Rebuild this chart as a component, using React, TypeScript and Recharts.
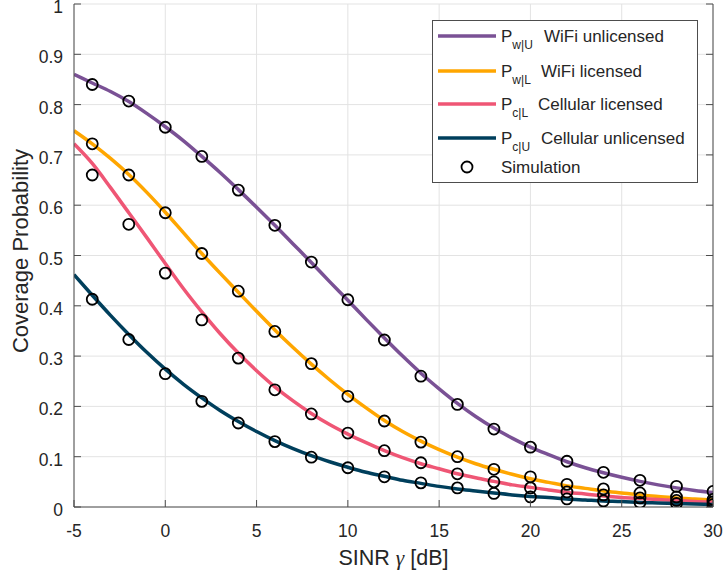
import { ComposedChart, Line, Scatter, XAxis, YAxis, CartesianGrid, Legend } from "recharts";

// analytic curves, sampled every 1 dB
const CURVE_X = [-5,-4,-3,-2,-1,0,1,2,3,4,5,6,7,8,9,10,11,12,13,14,15,16,17,18,19,20,21,22,23,24,25,26,27,28,29,30];
const WU_CURVE = [0.860,0.843,0.826,0.806,0.782,0.756,0.728,0.697,0.665,0.631,0.596,0.560,0.523,0.486,0.448,0.411,0.373,0.336,0.300,0.266,0.235,0.206,0.180,0.157,0.137,0.119,0.104,0.090,0.078,0.068,0.059,0.051,0.044,0.038,0.033,0.029];
const WL_CURVE = [0.748,0.722,0.693,0.661,0.625,0.586,0.545,0.504,0.465,0.427,0.389,0.352,0.317,0.284,0.253,0.224,0.197,0.172,0.150,0.131,0.114,0.099,0.086,0.075,0.065,0.056,0.049,0.042,0.037,0.032,0.028,0.024,0.021,0.018,0.016,0.014];
const CL_CURVE = [0.722,0.683,0.635,0.585,0.535,0.484,0.434,0.388,0.345,0.306,0.271,0.239,0.211,0.186,0.164,0.145,0.128,0.112,0.098,0.086,0.076,0.066,0.058,0.051,0.044,0.039,0.034,0.029,0.026,0.022,0.019,0.017,0.015,0.013,0.011,0.010];
const CU_CURVE = [0.462,0.421,0.381,0.343,0.307,0.274,0.244,0.217,0.192,0.170,0.150,0.132,0.116,0.102,0.090,0.079,0.069,0.061,0.053,0.047,0.041,0.036,0.032,0.028,0.024,0.021,0.019,0.016,0.014,0.012,0.011,0.009,0.008,0.007,0.006,0.005];

// simulation points, every 2 dB
const SIM_X = [-4,-2,0,2,4,6,8,10,12,14,16,18,20,22,24,26,28,30];
const WU_SIM = [0.840,0.807,0.755,0.697,0.630,0.560,0.487,0.412,0.332,0.260,0.204,0.155,0.119,0.091,0.069,0.053,0.041,0.031];
const WL_SIM = [0.722,0.660,0.585,0.504,0.429,0.349,0.285,0.220,0.171,0.129,0.100,0.075,0.060,0.045,0.036,0.028,0.020,0.015];
const CL_SIM = [0.660,0.562,0.465,0.372,0.296,0.233,0.185,0.147,0.112,0.088,0.066,0.050,0.038,0.030,0.024,0.018,0.013,0.010];
const CU_SIM = [0.413,0.333,0.265,0.210,0.167,0.130,0.099,0.078,0.060,0.048,0.038,0.027,0.020,0.016,0.012,0.009,0.007,0.005];

const X_TICKS = [-5,0,5,10,15,20,25,30];
const Y_TICKS = [0,0.1,0.2,0.3,0.4,0.5,0.6,0.7,0.8,0.9,1];

const FONT = '"Liberation Sans", Arial, Helvetica, sans-serif';
const INK = "#262626";
const AXIS = "#4d4d4d";
const GRID = "#e3e3e3";
const PLOT = { left: 74, right: 713, top: 4, bottom: 507 };
const TICK = 7;

const SERIES = [
  { key: "wu", sub: "w|U", label: "WiFi unlicensed",     color: "#7a5195", curve: WU_CURVE, sim: WU_SIM, textX: 112 },
  { key: "wl", sub: "w|L", label: "WiFi licensed",       color: "#ffa600", curve: WL_CURVE, sim: WL_SIM, textX: 109 },
  { key: "cl", sub: "c|L", label: "Cellular licensed",   color: "#ef5675", curve: CL_CURVE, sim: CL_SIM, textX: 106 },
  { key: "cu", sub: "c|U", label: "Cellular unlicensed", color: "#003f5c", curve: CU_CURVE, sim: CU_SIM, textX: 109 },
];

const toPts = (xs: number[], ys: number[]) => xs.map((x, i) => ({ x, y: ys[i] }));

function BottomTick(props: any) {
  const x = props.x;
  return (
    <g>
      <line x1={x} x2={x} y1={PLOT.bottom} y2={PLOT.bottom - TICK} stroke={AXIS} />
      <text x={x} y={PLOT.bottom + 30} textAnchor="middle" fontSize={17.5} fill={INK} fontFamily={FONT}>{props.payload.value}</text>
    </g>
  );
}

function LeftTick(props: any) {
  const y = props.y;
  return (
    <g>
      <line x1={PLOT.left} x2={PLOT.left + TICK} y1={y} y2={y} stroke={AXIS} />
      <text x={PLOT.left - 11} y={y + 9} textAnchor="end" fontSize={17.5} fill={INK} fontFamily={FONT}>{props.payload.value}</text>
    </g>
  );
}

const TopTick = (props: any) => <line x1={props.x} x2={props.x} y1={PLOT.top} y2={PLOT.top + TICK} stroke={AXIS} />;
const RightTick = (props: any) => <line x1={PLOT.right} x2={PLOT.right - TICK} y1={props.y} y2={props.y} stroke={AXIS} />;

const SimDot = (props: any) => <circle cx={props.cx} cy={props.cy} r={5.5} fill="none" stroke="#000" strokeWidth={1.8} />;

function SimLegend() {
  const rows = [16, 51, 84, 118];
  return (
    <svg width={266} height={163} style={{ display: "block" }}>
      <rect x={0.5} y={0.5} width={265} height={162} fill="#fff" stroke={AXIS} />
      {SERIES.map((s, i) => (
        <g key={s.key}>
          <line x1={6} x2={64} y1={rows[i]} y2={rows[i]} stroke={s.color} strokeWidth={3.5} />
          <text x={69} y={rows[i] + 6} fontSize={17} fill={INK} fontFamily={FONT}>
            P<tspan dy={7} fontSize={12}>{s.sub}</tspan><tspan x={s.textX} dy={-7}>{s.label}</tspan>
          </text>
        </g>
      ))}
      <circle cx={35} cy={147} r={5.5} fill="none" stroke="#000" strokeWidth={1.8} />
      <text x={69} y={153} fontSize={17} fill={INK} fontFamily={FONT}>Simulation</text>
    </svg>
  );
}

const XTitle = () => (
  <text x={(PLOT.left + PLOT.right) / 2} y={565} textAnchor="middle" fontSize={21.5} fill={INK} fontFamily={FONT}>
    SINR <tspan fontFamily='"Liberation Serif", "DejaVu Serif", serif' fontStyle="italic">γ</tspan> [dB]
  </text>
);

const YTitle = () => {
  const cy = 251;
  return (
    <text x={28} y={cy} transform={`rotate(-90, 28, ${cy})`} textAnchor="middle" fontSize={22} fill={INK} fontFamily={FONT}>
      Coverage Probability
    </text>
  );
};

export default function App() {
  return (
    <div style={{ position: "absolute", left: 0, top: 0, background: "#fff" }}>
      <ComposedChart width={723} height={577} margin={{ top: PLOT.top, right: 0, bottom: 0, left: 0 }}>
        <CartesianGrid stroke={GRID} />
        <XAxis type="number" dataKey="x" domain={[-5, 30]} ticks={X_TICKS} interval={0} height={70}
          allowDataOverflow axisLine={{ stroke: AXIS }} tickLine={false} tick={BottomTick} label={<XTitle />} />
        <XAxis xAxisId="top" orientation="top" type="number" dataKey="x" domain={[-5, 30]} ticks={X_TICKS} interval={0} height={0}
          allowDataOverflow axisLine={{ stroke: AXIS }} tickLine={false} tick={TopTick} />
        <YAxis type="number" domain={[0, 1]} ticks={Y_TICKS} interval={0} width={74}
          allowDataOverflow axisLine={{ stroke: AXIS }} tickLine={false} tick={LeftTick} label={<YTitle />} />
        <YAxis yAxisId="right" orientation="right" type="number" domain={[0, 1]} ticks={Y_TICKS} interval={0} width={10}
          allowDataOverflow axisLine={{ stroke: AXIS }} tickLine={false} tick={RightTick} />
        {SERIES.map((s) => (
          <Line key={s.key} data={toPts(CURVE_X, s.curve)} dataKey="y" type="monotone" stroke={s.color} strokeWidth={3.5}
            dot={false} activeDot={false} isAnimationActive={false} />
        ))}
        {SERIES.map((s) => (
          <Scatter key={s.key + "-sim"} data={toPts(SIM_X, s.sim)} dataKey="y" shape={SimDot} isAnimationActive={false} />
        ))}
        <Legend layout="horizontal" verticalAlign="middle" align="center" content={<SimLegend />}
          wrapperStyle={{ left: 432, top: 20, width: 266, height: 163 }} />
      </ComposedChart>
    </div>
  );
}
